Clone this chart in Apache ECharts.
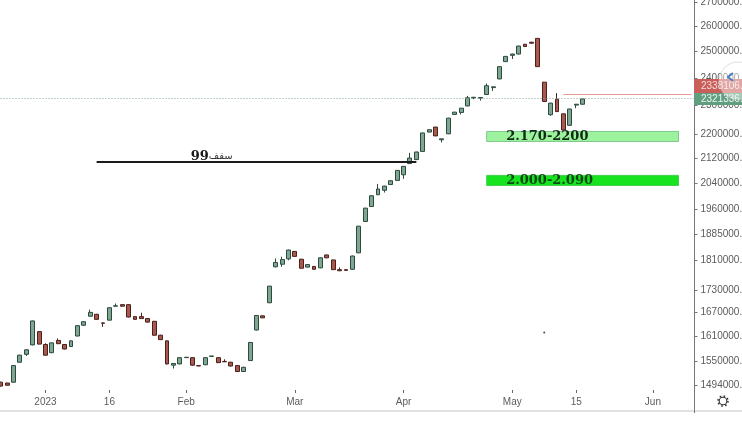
<!DOCTYPE html>
<html><head><meta charset="utf-8">
<style>html,body{margin:0;padding:0;background:#fff;overflow:hidden}#c{width:742px;height:441px}</style>
<script src="https://cdn.jsdelivr.net/npm/echarts@6/dist/echarts.min.js"></script></head>
<body><div id="c"></div>
<script>
// values in thousands
const opens=[1500,1498,1500,1547,1566,1589,1622,1590,1570,1600,1590,1585,1611,1638,1661,1666,1644,1651,1687,1691,1691,1660,1660,1655,1648,1613,1599,1540,1543,1558,1558,1539,1541,1561,1558,1549,1547,1539,1525,1551,1626,1662,1696,1793,1800,1815,1836,1814,1792,1794,1790,1826,1812,1785,1785,1786,1832,1923,1968,2004,2018,2036,2049,2067,2103,2116,2143,2208,2225,2182,2202,2269,2276,2299,2328,2327,2340,2365,2397,2462,2486,2491,2529,2537,2552,2385,2268,2323,2271,2231,2302,2305];
const closes=[1491,1493,1539,1564,1577,1649,1591,1564,1594,1592,1579,1599,1637,1647,1671,1653,1643,1683,1688,1687,1659,1653,1655,1646,1613,1602,1543,1544,1558,1559,1540,1538,1558,1562,1546,1548,1538,1525,1535,1595,1663,1657,1740,1805,1813,1840,1822,1789,1799,1786,1818,1818,1785,1782,1783,1823,1909,1963,2001,2022,2031,2048,2081,2094,2121,2141,2205,2216,2195,2185,2256,2277,2291,2328,2330,2329,2372,2368,2443,2482,2491,2522,2520,2533,2443,2315,2309,2279,2215,2288,2305,2324];
const lows=[1490,1492,1499,1546,1562,1588,1590,1563,1569,1591,1578,1584,1610,1637,1660,1652,1634,1650,1687,1686,1658,1652,1654,1645,1612,1601,1542,1532,1542,1558,1539,1538,1540,1561,1545,1548,1537,1524,1524,1550,1625,1656,1695,1791,1793,1811,1821,1788,1791,1784,1789,1817,1784,1781,1783,1785,1831,1922,1967,2003,2011,2035,2048,2054,2102,2115,2142,2207,2194,2173,2201,2268,2269,2298,2323,2318,2339,2353,2396,2461,2472,2490,2519,2532,2442,2314,2264,2278,2214,2230,2291,2304];
const highs=[1501,1499,1540,1565,1578,1650,1623,1593,1595,1605,1591,1600,1638,1648,1678,1667,1644,1684,1694,1692,1692,1661,1670,1656,1649,1614,1600,1544,1559,1559,1559,1539,1559,1562,1559,1554,1548,1540,1536,1596,1664,1663,1741,1816,1821,1841,1837,1815,1800,1795,1819,1827,1813,1791,1785,1824,1910,1964,2002,2038,2032,2049,2082,2095,2138,2142,2206,2217,2226,2185,2257,2278,2292,2335,2330,2329,2380,2368,2444,2483,2492,2523,2530,2538,2553,2386,2310,2345,2272,2289,2306,2325];
const slotCount=109;
const tickSlots=[7,17,29,46,63,80,90,102];
const tickLabels=['2023','16','Feb','Mar','Apr','May','15','Jun'];
const priceTicks=[2700000,2600000,2500000,2400000,2300000,2200000,2120000,2040000,1960000,1885000,1810000,1730000,1670000,1610000,1550000,1494000];
const lastPrice=2327000, bidPrice=2340500;
const zoneA=[2176000,2210000], zoneB=[2033000,2065000];
const zoneSlots=[76,106];
const ceilingValue=2109000, ceilingSlots=[15,65];
const strayPoint=[85,1620000];

const slots=Array.from({length:slotCount},(_,i)=>String(i));
const ohlc=opens.map((o,i)=>[o*1000,closes[i]*1000,lows[i]*1000,highs[i]*1000]);
const gray='#5c5c5c';
const salmon={color:'#e29a92',width:1,type:'solid'};
const chart=echarts.init(document.getElementById('c'));
chart.setOption({
  animation:false,backgroundColor:'#fff',
  grid:{left:-2.5,right:47.5,top:0,bottom:31,containLabel:false,outerBoundsMode:'none'},
  xAxis:{type:'category',data:slots,boundaryGap:true,offset:-20,
    axisLine:{show:false},
    axisTick:{show:true,alignWithLabel:true,length:3,lineStyle:{color:'#666'},interval:(i)=>tickSlots.includes(i)},
    axisLabel:{margin:7,color:gray,fontSize:10,fontFamily:'Liberation Sans',
      interval:(i)=>tickSlots.includes(i),
      formatter:(v,i)=>{const k=tickSlots.indexOf(+v);return k<0?'':tickLabels[k];}},
    splitLine:{show:false}},
  yAxis:{type:'log',logBase:10,position:'right',min:1436900,max:2708000,scale:true,
    axisLine:{show:true,lineStyle:{color:'#777',width:1}},
    axisTick:{show:true,length:3,customValues:priceTicks,lineStyle:{color:'#777'}},
    axisLabel:{margin:6,color:gray,fontSize:10,fontFamily:'Liberation Sans',customValues:priceTicks,
      formatter:(v)=>Number(v).toFixed(1)},
    splitLine:{show:false},minorTick:{show:false}},
  series:[
   {type:'candlestick',data:ohlc,barWidth:4.4,
    itemStyle:{color:'#7fa593',color0:'#a9584e',borderColor:'#2d4b3d',borderColor0:'#4a211c',borderWidth:1},
    markLine:{silent:true,symbol:'none',label:{show:false},animation:false,data:[
      [{coord:[ceilingSlots[0],ceilingValue],lineStyle:{color:'#1b1b1b',width:2,type:'solid'}},{coord:[ceilingSlots[1],ceilingValue],lineStyle:{color:'#1b1b1b',width:2,type:'solid'}}],
      {yAxis:lastPrice,lineStyle:{color:'#7fa593',width:1,type:[1,2]}},
      [{coord:[88,bidPrice],lineStyle:salmon},{coord:[108,bidPrice],lineStyle:salmon}]
    ]},
    markArea:{silent:true,animation:false,data:[
      [{xAxis:zoneSlots[0],yAxis:zoneA[1],name:'2.170-2200',
        itemStyle:{color:'#9df29d',borderColor:'#7fc98f',borderWidth:1},
        label:{show:true,position:'insideLeft',distance:20,color:'#0d2b12',fontFamily:'DejaVu Serif',fontWeight:'bold',fontSize:13}},
       {xAxis:zoneSlots[1],yAxis:zoneA[0]}],
      [{xAxis:zoneSlots[0],yAxis:zoneB[1],name:'2.000-2.090',
        itemStyle:{color:'#17e41f',borderColor:'#3fd04a',borderWidth:1},
        label:{show:true,position:'insideLeft',distance:20,color:'#0f4a16',fontFamily:'DejaVu Serif',fontWeight:'bold',fontSize:13}},
       {xAxis:zoneSlots[1],yAxis:zoneB[0]}]
    ]},
    markPoint:{silent:true,animation:false,symbol:'circle',symbolSize:0,data:[
      {coord:[33,2125000],label:{show:true,position:'inside',
        formatter:'{n|99}{a|سقف}',rich:{n:{fontFamily:'DejaVu Serif',fontWeight:'bold',fontSize:13,color:'#1a1a1a'},a:{fontFamily:'DejaVu Sans',fontSize:10,color:'#333'}}}}
    ]}
   },
   {type:'scatter',data:[strayPoint],symbolSize:2,itemStyle:{color:'#222'},silent:true}
  ],
  graphic:[
    {type:'rect',z:50,shape:{x:0,y:410,width:742,height:2},style:{fill:'#e2e2e2'}},
    {type:'line',z:50,shape:{x1:694.5,y1:408,x2:694.5,y2:413},style:{stroke:'#777',lineWidth:1}},
    {type:'rect',z:60,shape:{x:694,y:79,width:48,height:14},style:{fill:'#c85f5a'}},
    {type:'rect',z:60,shape:{x:694,y:93,width:48,height:12},style:{fill:'#5f9f80'}},
    {type:'text',z:61,style:{x:701,y:86,text:'2338106.0',fill:'#f7dcda',font:'10px "Liberation Sans"',textVerticalAlign:'middle'}},
    {type:'text',z:61,style:{x:701,y:99,text:'2321336.0',fill:'#eef7f2',font:'10px "Liberation Sans"',textVerticalAlign:'middle'}},
    {type:'circle',z:62,shape:{cx:738,cy:81,r:19},style:{fill:'rgba(255,255,255,0.45)',stroke:'rgba(190,190,190,0.5)',lineWidth:1}},
    {type:'polyline',z:63,shape:{points:[[733,73],[728,77],[733,81]]},style:{stroke:'#4d7fc4',lineWidth:2,fill:null}},
    {type:'circle',z:63,shape:{cx:723,cy:401,r:3.8},style:{fill:'#fff',stroke:'#333',lineWidth:1.1}},
    {type:'circle',z:62,shape:{cx:723,cy:401,r:5},style:{fill:null,stroke:'#333',lineWidth:1.6,lineDash:[1.6,2.32]}}
  ]
});
</script></body></html>
